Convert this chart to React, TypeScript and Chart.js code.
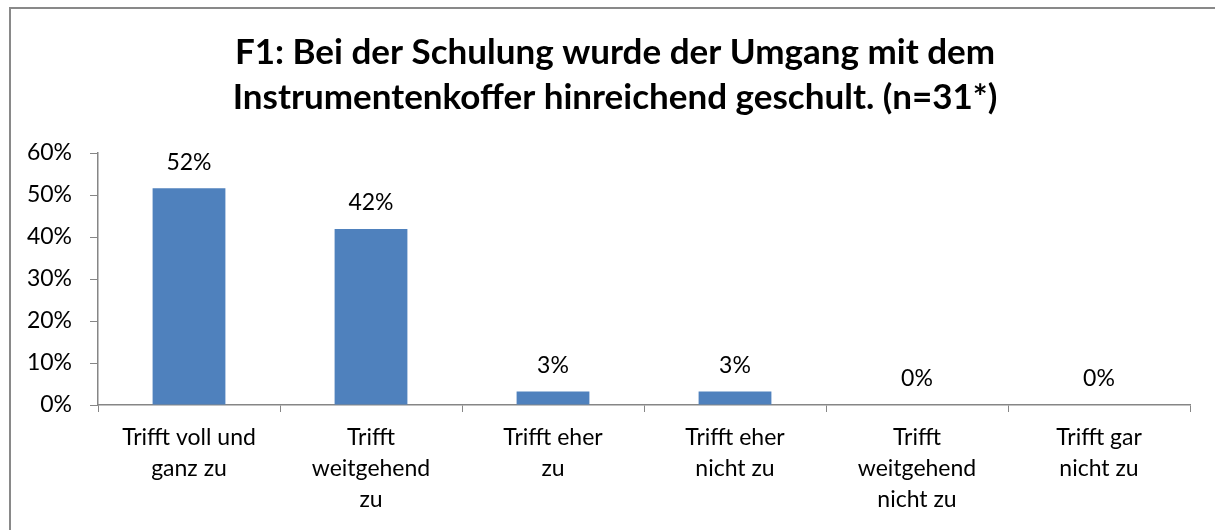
import React, { useEffect, useRef } from "react";
import { Chart, registerables } from "chart.js";

Chart.register(...registerables);

const titleLines = [
  "F1: Bei der Schulung wurde der Umgang mit dem",
  "Instrumentenkoffer hinreichend geschult. (n=31*)",
];

const categories = [
  ["Trifft voll und", "ganz zu"],
  ["Trifft", "weitgehend", "zu"],
  ["Trifft eher", "zu"],
  ["Trifft eher", "nicht zu"],
  ["Trifft", "weitgehend", "nicht zu"],
  ["Trifft gar", "nicht zu"],
];

const values = [51.6, 41.9, 3.2, 3.2, 0, 0];
const valueLabels = ["52%", "42%", "3%", "3%", "0%", "0%"];

const yMin = 0;
const yMax = 60;
const yStep = 10;

const FONT = "Lato";
const AXIS_COLOR = "#868686";

// Title is centred on the (wider than the window) chart box, like the original.
const titlePlugin = {
  id: "boxTitle",
  afterDraw(chart: any) {
    const ctx = chart.ctx;
    ctx.save();
    ctx.font = `bold 35px ${FONT}`;
    ctx.fillStyle = "#000";
    ctx.textAlign = "center";
    ctx.textBaseline = "middle";
    titleLines.forEach((line, i) => {
      ctx.fillText(line, 615, 52.5 + i * 45);
    });
    ctx.restore();
  },
};

const valueLabelPlugin = {
  id: "valueLabelPlugin",
  afterDatasetsDraw(chart: any) {
    const ctx = chart.ctx;
    const meta = chart.getDatasetMeta(0);
    ctx.save();
    ctx.font = `23px ${FONT}`;
    ctx.fillStyle = "#000";
    ctx.textAlign = "center";
    ctx.textBaseline = "middle";
    meta.data.forEach((el: any, i: number) => {
      ctx.fillText(valueLabels[i], el.x, el.y - 26);
    });
    ctx.restore();
  },
};

export default function App() {
  const canvasRef = useRef<HTMLCanvasElement | null>(null);

  useEffect(() => {
    if (!canvasRef.current) return;
    const chart = new Chart(canvasRef.current, {
      type: "bar",
      data: {
        labels: categories,
        datasets: [
          {
            data: values,
            backgroundColor: "#4F81BD",
            borderWidth: 0,
            barPercentage: 0.8,
            categoryPercentage: 0.5,
          },
        ],
      },
      options: {
        responsive: false,
        animation: false,
        devicePixelRatio: 1,
        layout: { padding: { left: 0, right: 25, top: 153, bottom: 0 } },
        plugins: {
          legend: { display: false },
          tooltip: { enabled: false },
          title: { display: false },
        },
        scales: {
          x: {
            offset: true,
            grid: {
              offset: true,
              drawOnChartArea: false,
              drawTicks: true,
              tickLength: 7,
              tickColor: AXIS_COLOR,
              color: AXIS_COLOR,
            },
            border: { display: true, color: AXIS_COLOR, width: 1.5 },
            ticks: {
              color: "#000",
              font: { family: FONT, size: 23, lineHeight: "31px" },
              padding: 10,
              maxRotation: 0,
              autoSkip: false,
            },
            afterFit(scale: any) {
              scale.height = 125;
            },
          },
          y: {
            min: yMin,
            max: yMax,
            grid: {
              drawOnChartArea: false,
              drawTicks: true,
              tickLength: 8,
              tickColor: AXIS_COLOR,
              color: AXIS_COLOR,
            },
            border: { display: true, color: AXIS_COLOR, width: 1.5 },
            ticks: {
              stepSize: yStep,
              color: "#000",
              font: { family: FONT, size: 23 },
              padding: 18,
              callback: (v: any) => `${v}%`,
            },
            afterFit(scale: any) {
              scale.width = 98;
            },
          },
        },
      },
      plugins: [valueLabelPlugin, titlePlugin],
    });
    return () => chart.destroy();
  }, []);

  return (
    <div
      style={{
        position: "fixed",
        left: 0,
        top: 0,
        width: 1215,
        height: 530,
        overflow: "hidden",
        background: "#fff",
      }}
    >
      <canvas
        ref={canvasRef}
        width={1215}
        height={530}
        style={{ position: "absolute", left: 0, top: 0, display: "block" }}
      />
      <div
        style={{
          position: "absolute",
          left: 9,
          top: 7,
          width: 1300,
          height: 600,
          border: "2px solid #898989",
          boxSizing: "border-box",
          pointerEvents: "none",
        }}
      />
    </div>
  );
}
